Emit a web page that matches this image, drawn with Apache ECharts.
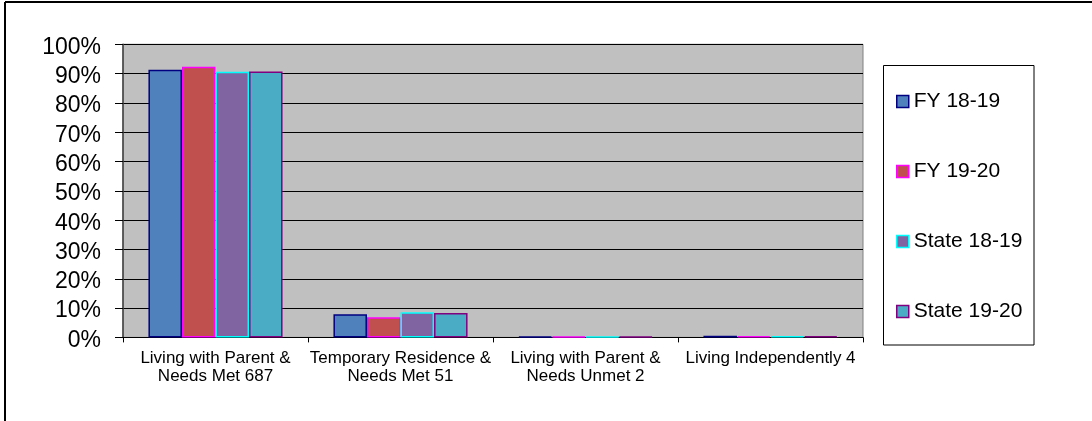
<!DOCTYPE html>
<html>
<head>
<meta charset="utf-8">
<script src="https://cdn.jsdelivr.net/npm/echarts@6/dist/echarts.min.js"></script>
<style>
html,body{margin:0;padding:0;background:#fff;}
#chart{width:1092px;height:421px;}
</style>
</head>
<body>
<div id="chart"></div>
<script>
const categories = [
  "Living with Parent &\nNeeds Met 687",
  "Temporary Residence &\nNeeds Met 51",
  "Living with Parent &\nNeeds Unmet 2",
  "Living Independently 4"
];
const seriesNames = ["FY 18-19", "FY 19-20", "State 18-19", "State 19-20"];
const fy1819 = [91.3, 7.9, 0.3, 0.6];
const fy1920 = [92.3, 6.9, 0.3, 0.5];
const state1819 = [90.6, 8.6, 0.2, 0.4];
const state1920 = [90.7, 8.3, 0.3, 0.5];
const yTicks = [0, 10, 20, 30, 40, 50, 60, 70, 80, 90, 100];

const fills = ["#4F81BD", "#C0504D", "#8064A2", "#4BACC6"];
const borders = ["#000080", "#FF00FF", "#00FFFF", "#800080"];
const values = [fy1819, fy1920, state1819, state1920];
const font = "'Liberation Sans', Arial, sans-serif";

const chart = echarts.init(document.getElementById('chart'), null, {renderer: 'canvas'});
chart.setOption({
  animation: false,
  backgroundColor: '#ffffff',
  textStyle: {fontFamily: font},
  grid: {
    left: 123, right: 229, top: 44.3, bottom: 83.6,
    show: true, backgroundColor: '#C0C0C0', borderColor: '#808080', borderWidth: 1
  },
  graphic: [
    {type: 'line', z: 100, shape: {x1: 5, y1: 2, x2: 1092, y2: 2}, style: {stroke: '#000', lineWidth: 2}},
    {type: 'line', z: 100, shape: {x1: 5, y1: 2, x2: 5, y2: 421}, style: {stroke: '#000', lineWidth: 2}},
    {type: 'rect', z: -1, shape: {x: 883.5, y: 65.5, width: 150.5, height: 279.5}, style: {fill: '#fff', stroke: '#000', lineWidth: 1}}
  ],
  legend: {
    orient: 'vertical',
    left: 896, top: 91, padding: 0,
    itemWidth: 12, itemHeight: 12, itemGap: 49,
    icon: 'rect',
    textStyle: {fontSize: 21, color: '#000', fontFamily: font, lineHeight: 21},
    data: seriesNames.map((n, i) => ({
      name: n,
      itemStyle: {color: fills[i], borderColor: borders[i], borderWidth: 1.5}
    }))
  },
  xAxis: {
    type: 'category',
    data: categories,
    axisLine: {show: true, lineStyle: {color: '#000', width: 1}},
    axisTick: {show: true, length: 5, lineStyle: {color: '#000'}},
    axisLabel: {interval: 0, fontSize: 17, color: '#000', lineHeight: 18, margin: 12, fontFamily: font},
    splitLine: {show: false}
  },
  yAxis: {
    type: 'value',
    min: 0, max: 100, interval: 10,
    axisLine: {show: true, lineStyle: {color: '#404040', width: 1.5}},
    axisTick: {show: true, length: 8, lineStyle: {color: '#000'}},
    axisLabel: {color: '#000', margin: 22, fontFamily: font,
      formatter: v => yTicks.indexOf(v) >= 0 ? '{p|' + v + '%}' : '',
      rich: {p: {fontSize: 23, color: '#000', fontFamily: font, padding: [6, 0, 0, 0]}}},
    splitLine: {show: true, lineStyle: {color: '#000', width: 1}}
  },
  series: seriesNames.map((n, i) => ({
    name: n,
    type: 'bar',
    data: values[i],
    barGap: '0%',
    barCategoryGap: '27.5%',
    itemStyle: {color: fills[i], borderColor: borders[i], borderWidth: 1.5}
  }))
});
</script>
</body>
</html>
